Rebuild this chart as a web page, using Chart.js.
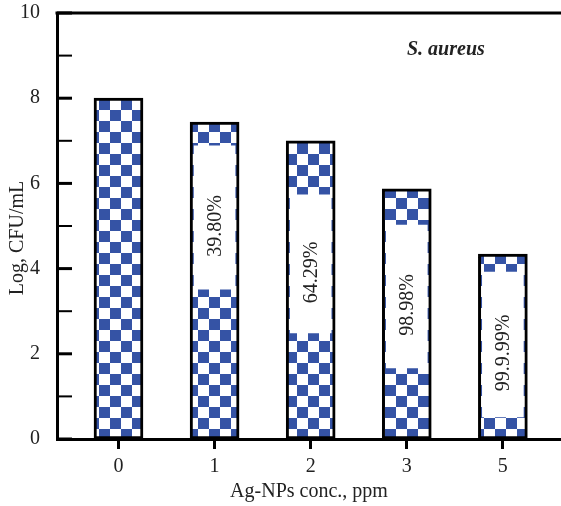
<!DOCTYPE html>
<html>
<head>
<meta charset="utf-8">
<script src="https://cdn.jsdelivr.net/npm/chart.js@4"></script>
<style>
    body { margin: 0; background: #fff; }
    #wrap { width: 561px; height: 506px; }
</style>
</head>
<body>
<div id="wrap"><canvas id="cfuChart"></canvas></div>
<script>
const categories = ["0", "1", "2", "3", "5"];
const logCfu = [8.0, 7.44, 7.0, 5.87, 4.34];
const boxLow = [null, 3.52, 2.49, 1.67, 0.52];
const boxHigh = [null, 6.88, 5.73, 5.02, 3.92];
const reductionLabels = ["", "39.80%", "64.29%", "98.98%", "99.9.99%"];
const yTicks = [0, 2, 4, 6, 8, 10];

const serif = "'Liberation Serif', 'Times New Roman', serif";
const blue = "#3553a5";
const ink = "#222";

function checkerPattern(ctx) {
    const size = 11;
    const tile = document.createElement("canvas");
    tile.width = size * 2;
    tile.height = size * 2;
    const t = tile.getContext("2d");
    t.fillStyle = "#fff";
    t.fillRect(0, 0, size * 2, size * 2);
    t.fillStyle = blue;
    t.fillRect(0, 0, size, size);
    t.fillRect(size, size, size, size);
    return ctx.createPattern(tile, "repeat");
}

const decorations = {
    id: "decorations",
    afterDraw(chart) {
        const { ctx, chartArea, scales } = chart;
        const x = scales.x, y = scales.y;
        ctx.save();

        // top frame line
        ctx.strokeStyle = "#000";
        ctx.lineWidth = 3;
        ctx.beginPath();
        ctx.moveTo(chartArea.left - 1.5, chartArea.top);
        ctx.lineTo(chartArea.right, chartArea.top);
        ctx.stroke();

        // inward y ticks, major and minor
        for (let v = 0; v <= 10; v++) {
            const py = y.getPixelForValue(v);
            ctx.lineWidth = v % 2 === 0 ? 3 : 2;
            ctx.beginPath();
            ctx.moveTo(chartArea.left, py);
            ctx.lineTo(chartArea.left + 15, py);
            ctx.stroke();
        }

        // rotated percentage labels
        ctx.fillStyle = ink;
        ctx.font = "20px " + serif;
        ctx.textAlign = "center";
        ctx.textBaseline = "middle";
        reductionLabels.forEach((txt, i) => {
            if (!txt) return;
            const px = x.getPixelForValue(i);
            const py = y.getPixelForValue((boxLow[i] + boxHigh[i]) / 2 - 0.2);
            ctx.save();
            ctx.translate(px, py);
            ctx.rotate(-Math.PI / 2);
            ctx.fillText(txt, 0, 1);
            ctx.restore();
        });

        // axis titles
        ctx.font = "20px " + serif;
        ctx.fillText("Ag-NPs conc., ppm", (chartArea.left + chartArea.right) / 2, 492);
        ctx.save();
        ctx.translate(18, (chartArea.top + chartArea.bottom) / 2 + 12);
        ctx.rotate(-Math.PI / 2);
        ctx.fillText("Log, CFU/mL", 0, 0);
        ctx.restore();

        // organism label
        ctx.font = "italic bold 20px " + serif;
        ctx.textAlign = "left";
        ctx.textBaseline = "alphabetic";
        ctx.fillText("S. aureus", 407, 55);

        ctx.restore();
    }
};

const ctx = document.getElementById("cfuChart").getContext("2d");
const pattern = checkerPattern(ctx);

new Chart(ctx, {
    type: "bar",
    data: {
        datasets: [
            {
                label: "reduction",
                data: boxLow.map((lo, i) => lo === null ? null : { x: i, y: [lo, boxHigh[i]] }).filter(d => d),
                backgroundColor: "#fff",
                borderWidth: 0,
                barThickness: 41,
                grouped: false,
                order: 0
            },
            {
                label: "Log CFU/mL",
                data: logCfu.map((v, i) => ({ x: i, y: v })),
                backgroundColor: pattern,
                borderColor: "#000",
                borderWidth: 3,
                borderSkipped: false,
                barThickness: 49,
                grouped: false,
                order: 1
            }
        ]
    },
    options: {
        responsive: true,
        maintainAspectRatio: false,
        animation: false,
        layout: { padding: { top: 13, right: 0, left: 0, bottom: 0 } },
        plugins: {
            legend: { display: false },
            tooltip: { enabled: false }
        },
        scales: {
            x: {
                type: "linear",
                offset: false,
                min: -0.64,
                max: 4.605,
                afterBuildTicks: scale => { scale.ticks = categories.map((c, i) => ({ value: i })); },
                afterFit: scale => { scale.height = 67; },
                ticks: {
                    callback: v => categories[v],
                    font: { family: serif, size: 20 },
                    color: ink,
                    padding: 6,
                    maxRotation: 0
                },
                grid: {
                    offset: false,
                    drawOnChartArea: false,
                    drawTicks: true,
                    tickLength: 10,
                    tickWidth: 3,
                    color: "#000"
                },
                border: { display: true, width: 3, color: "#000" }
            },
            y: {
                min: 0,
                max: 10,
                afterBuildTicks: scale => { scale.ticks = yTicks.map(v => ({ value: v })); },
                afterFit: scale => {
                    scale.width = 57;
                    scale.paddingTop = 0;
                    scale.paddingBottom = 0;
                },
                ticks: {
                    font: { family: serif, size: 20 },
                    color: ink,
                    padding: 9
                },
                grid: { display: false },
                border: { display: true, width: 3, color: "#000" }
            }
        }
    },
    plugins: [decorations]
});
</script>
</body>
</html>
